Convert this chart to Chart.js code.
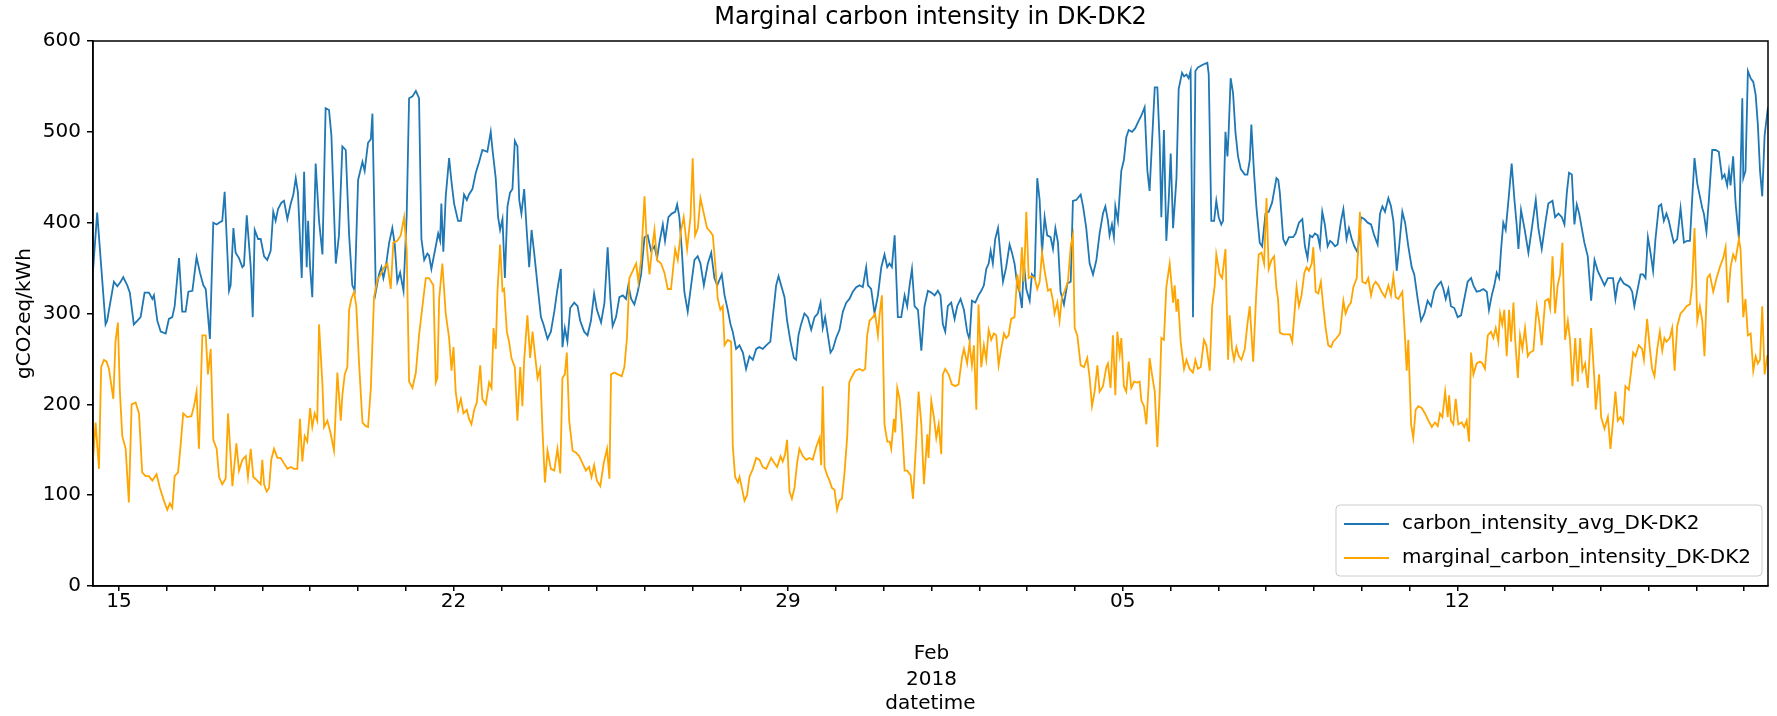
<!DOCTYPE html>
<html>
<head>
<meta charset="utf-8">
<script src="https://cdn.jsdelivr.net/npm/chart.js@4.4.1/dist/chart.umd.min.js"></script>
<style>
  html, body { margin: 0; padding: 0; background: #fff; }
  #wrap { width: 1777px; height: 716px; position: relative; }
</style>
</head>
<body>
<div id="wrap"><canvas id="chart_marginalCarbonIntensity"></canvas></div>
<script>
// x = hours since 2018-01-15 00:00, y = gCO2eq/kWh
var avgIntensity = [
  [-13,347],[-10.9,411],[-6.7,288],[-5.9,292],[-2.5,335],[-0.8,330],[0.9,335],[2.2,340],[4.2,331],[5.5,323],
  [7.5,288],[9.2,292],[10.9,296],[12.9,323],[15.1,323],[16.8,316],[17.6,320],[19.3,292],[21,280],[23.5,278],
  [25.1,294],[26.8,296],[28,308],[30.2,361],[31.8,302],[33.5,302],[34.9,324],[36.9,325],[39,362],[40.7,345],
  [42.4,331],[43.6,327],[45.7,272],[47.4,400],[49.1,398],[50.3,400],[51.9,402],[53.1,434],[55.3,325],[56.1,331],
  [57.5,394],[58.6,367],[60.3,361],[62,351],[62.8,353],[64.2,408],[66.2,351],[67.2,296],[68.2,392],[69.9,382],
  [71.2,382],[72.9,363],[74.5,359],[76.2,369],[77.5,412],[78.7,402],[79.9,415],[81.6,422],[82.9,424],[84.6,404],
  [86.3,421],[87.6,431],[88.8,449],[89.9,433],[91.8,339],[93,456],[94.3,351],[95,402],[96,351],[97.1,318],
  [98.8,465],[100.5,402],[102.2,365],[103.8,526],[105.5,524],[106.7,496],[108.9,355],[110.5,386],[112.2,484],[113.9,480],
  [115.6,386],[117.2,331],[118.4,325],[120.1,447],[122.3,467],[123.4,457],[125.1,488],[126.5,492],[127.3,520],[129,324],
  [130.6,343],[131.8,351],[132.8,339],[134,351],[135.7,378],[137.3,394],[138.5,376],[139.8,335],[141.2,345],[142.9,325],
  [144.5,408],[145.7,537],[147.4,539],[149.1,545],[150.7,537],[151.9,382],[153.3,359],[154.9,366],
  [155.7,364],[156.9,349],[159.1,374],[160.3,388],[161.3,380],[161.9,421],[162.9,368],[164.1,429],[165.8,471],[167,445],
  [168.3,421],[170.3,402],[171.7,402],[173.3,431],[174.7,425],[175.8,431],[177.5,437],[179.2,455],[180.9,467],[182.5,480],
  [185,478],[186.7,500],[187.6,480],[189.2,449],[190.4,406],[191.4,392],[192.6,404],[193.8,339],[195.1,418],[196.4,433],
  [197.6,437],[198.8,490],[200.1,484],[201,425],[202.1,410],[203.5,437],[204.8,390],[206,351],[207.2,392],[208.5,367],
  [210.2,331],[211.9,296],[213.2,288],[215.2,272],[216.9,280],[218.6,302],[220.2,327],[221.9,349],[222.7,263],[223.9,284],
  [225.2,269],[226.6,306],[228.6,312],[230.3,308],[231.6,292],[233.6,280],[235.3,276],[237,292],[238.6,322],[240,304],
  [242.1,290],[243.8,312],[245.4,373],[246.8,316],[247.9,286],[249.6,296],[251.3,318],[253,320],[254.6,316],[255.8,331],
  [257.2,316],[258.8,310],[260.5,324],[262.2,343],[263.9,384],[265.5,386],[267.2,369],[268.9,374],[270.2,361],[271.4,378],
  [273.1,398],[274.2,380],[275.9,406],[277.6,410],[279.3,412],[280.3,420],[281.4,406],[282.6,371],[283.9,324],[285.6,302],
  [287.3,331],[289,359],[290.6,363],[292,355],[293.7,331],[295.7,355],[297.4,367],[299,339],[300.4,331],[302.7,343],
  [304.1,320],[305.7,304],[307.1,288],[308.2,280],[309.9,261],[311.6,265],[313.3,257],[314.9,239],[316.6,253],[318.3,249],
  [320,261],[321.6,263],[323.3,261],[325,265],
  [327.1,269],[328.3,296],[330,331],[331.2,341],[332.5,331],[334.2,318],[335.5,292],[337.2,269],[338.9,251],[340,249],
  [341.2,276],[342.5,288],[344.2,300],[345.9,296],[347.6,282],[349.3,296],[350.9,300],[352.3,312],[353.4,284],[354.6,296],
  [356,276],[357.3,257],[358.5,261],[360.1,273],[361.8,282],[363.5,302],[365.2,312],[366.8,316],[368.5,324],[370.2,329],
  [371.9,331],[373.5,329],[375.2,351],[376.1,331],[377.7,327],[379.4,300],[381.1,320],[382.8,351],[384.4,365],[385.8,351],
  [386.9,355],[388.1,351],[389.5,386],[391.1,296],[392.8,296],[394.5,320],[395.8,308],[397,331],[398.2,349],[399.5,308],
  [401.2,304],[402.9,259],[404.5,308],[406.2,325],[407.9,323],[409.6,320],[411.2,325],
  [412.5,320],[413.7,288],[414.9,280],[416.2,308],[417.9,312],[419.6,294],[420.9,308],[422.6,316],[424.3,304],[425.9,280],
  [427.1,271],[428.3,314],[430,312],[431.6,320],[433,325],[434.3,331],[435.5,349],[436.7,355],[437.7,369],[438.8,355],
  [440,382],[441.4,394],[442.7,363],[443.9,335],[445.5,351],[447.2,376],[448.4,367],[449.7,355],[451.1,331],[452.2,324],
  [453.4,306],[454.4,355],[455.6,327],[457.3,314],[458.4,343],[459.8,339],[461.1,449],[462.3,425],[463.5,367],[464.8,406],
  [466.1,386],[467.8,384],[469,371],[470.2,394],[471.5,378],[472.8,324],[474.5,310],[476.2,333],[477.9,335],[479,424],
  [480.7,425],[482.9,431],[484.1,418],[485.7,394],[487.4,355],[489.1,343],[490.8,359],[492.4,388],[494.1,410],[495.3,418],
  [496.6,402],[497.4,386],[498.6,398],[499.6,384],[500.3,418],[501.6,402],[503.3,457],[504.6,469],[505.8,494],[507,502],
  [508.7,500],[510.3,504],[512,512],[513.4,518],[515,527],[516.4,457],[517.5,435],[518.7,488],[520.1,549],[521.4,549],
  [522.6,486],[523.4,406],[524.7,502],[525.9,380],[527.1,425],[528.1,476],[529.3,394],[531,449],[532.1,547],[533.8,565],
  [534.8,561],[536,563],[537.1,559],[538.1,567],[539.3,296],[540.5,567],[541.8,571],[543.5,573],[545.2,575],[546.5,576],
  [547.2,563],[548.5,402],[549.9,402],[551,424],[552.2,406],[553.5,398],[554.4,402],[555.6,500],[556.6,473],[557.2,500],
  [558.2,559],[559.4,543],[560.6,500],[561.9,473],[563.3,459],[565.3,453],[566.6,453],[567.8,469],[568.6,508],[570,453],
  [571.1,418],[572.8,378],[574,374],[575.7,410],[577.3,412],[579,422],[581.2,449],
  [582.1,447],[582.9,433],[584.6,382],[585.8,376],[587.5,384],[589.6,384],[590.8,388],[592.5,400],[594.2,404],[595.5,374],
  [596.8,361],[598,386],[599.2,384],[600.5,388],[601.9,386],[603,374],[604.2,412],[605.5,398],[606.9,374],[608.1,380],
  [609.2,378],[610.6,374],[611.9,376],[613.6,402],[614.8,415],[616.4,382],[617.6,394],[619,382],[620.3,374],[622,367],
  [623.6,406],[625.3,404],[627,400],[628.7,398],[630.3,386],[632,376],[633.2,410],[634.4,418],[635.7,412],[637.4,427],
  [638.7,418],[639.9,402],[641.6,347],[642.7,371],[644.4,412],[645.8,400],[647.4,374],[649.1,351],[650.4,343],[652.1,316],
  [653.8,292],[655.5,300],[657.1,314],[658.8,308],[660.5,325],[662.2,331],[663.8,335],[665,327],[666.2,316],
  [667.5,327],[668.8,308],[670.5,306],[672.2,296],[673.9,298],[675.5,316],[677.2,335],[678.9,339],[680.1,331],[681.7,324],
  [683.4,325],[685.1,327],[686.8,324],[687.9,304],[689.3,320],[690.6,331],[691.8,345],[693,339],[694,371],[695.1,400],
  [696.3,392],[697.7,425],[699.3,465],[700.7,425],[701.8,398],[702.7,371],[704,414],[705.7,394],[707.7,367],[709.7,398],
  [711.4,425],[712.7,394],[714.4,371],[716.1,398],[717.7,421],[719.8,424],[721.1,406],[722.8,410],[724.5,406],[725.8,398],
  [727,433],[728.1,455],[729.5,453],[730.8,398],[732,420],[733.2,410],[734.5,394],[735.8,378],[737.5,363],[739.2,314],
  [740.9,359],[742.5,347],[744.2,339],[745.9,331],[747.6,339],
  [748.9,339],[750.2,339],[751.4,316],[752.6,333],[753.9,339],[755.6,333],[757.3,331],[758.6,329],[759.8,324],[760.9,308],
  [762.3,324],[764,343],[765.3,343],[766.5,339],[767.7,384],[769,367],[770.3,347],[771.5,382],[773.2,418],[774.4,420],
  [775.7,402],[777,410],[778.2,402],[779.4,390],[780.7,378],[782.4,382],[784.1,416],[785.8,378],[787.4,380],[788.8,380],
  [789.9,425],[791.1,471],[792.5,443],[793.8,429],[795,416],[795.8,410],[797.1,390],[798.3,425],[800,480],[801.7,480],
  [803.3,478],[805,449],[806.2,453],[807.5,441],[808.4,457],[809.2,441],[810.5,473],[811.7,422],[813.4,382],[815.1,537],
  [815.6,449],[816.7,457],[817.9,567],[819.3,559],[820.6,555],[821.8,541],[822.9,508],[824,457],[825.1,429],[826.3,496],
  [827.6,520],[828,527]
];

var marginalIntensity = [
  [-13,139],[-11.7,180],[-10,129],[-8.9,241],[-7.5,249],[-6.2,247],[-5,239],[-3.8,221],[-2.8,206],[-1.7,269],
  [-0.5,290],[0.5,214],[1.7,165],[3.4,151],[5,92],[6.4,200],[8.4,202],[10.1,190],[11.7,125],[13.4,121],
  [15.1,121],[16.8,116],[18.9,123],[20.6,108],[22.6,94],[24.3,84],[25.6,91],[26.8,86],[28,121],[29.7,125],
  [31,155],[32.3,190],[34.3,186],[36.4,187],[37.7,198],[39,214],[40.2,151],[41.9,276],[43.6,276],[44.7,233],
  [46.1,261],[47.4,161],[49.1,151],[50.3,120],[51.9,112],[53.6,118],[54.8,190],[57,110],[59,157],[60.3,127],
  [62,139],[63.7,143],[64.8,120],[66.2,151],[67.5,120],[69.5,116],
  [71.2,112],[72,139],[72.9,112],[74.2,104],[75.4,108],[76.5,139],[77.9,151],[79.6,141],[81.2,141],[82.9,135],
  [84.6,129],[86.3,131],[87.9,129],[89.6,129],[90.9,184],[92.1,137],[93.3,165],[94.6,159],[96,196],[97.1,175],
  [98.3,190],[99.6,182],[100.5,288],[102.2,222],[103,175],[104.7,182],[106.4,167],[108,149],[109.7,235],[111.4,182],
  [112.2,210],[113.4,233],[114.7,241],[115.6,304],[116.7,316],[118.1,324],[119.2,308],[120.6,245],[122.3,180],[124,176],
  [125.1,175],[126.5,218],[128.1,318],[129.8,337],[131.5,343],[133.2,351],[134.8,355],[136.5,327],[137.8,378],[139.8,380],
  [141.5,386],[143.2,406],[144.5,370],[145.7,225],[147.4,218],[149.1,235],[150.7,276],[152.4,308],[154.1,339],
  [155.7,339],[157.9,331],[159.1,224],[159.9,229],[160.8,316],[162.4,355],[164.1,300],[165.8,273],[167,237],[168,263],
  [169.1,214],[170.3,194],[171.7,206],[173,190],[174.7,194],[175.8,184],[177,178],[178.4,194],[179.7,202],[181.4,243],
  [182.5,206],[184.2,200],[185.9,224],[187.1,218],[188.1,284],[189.2,261],[190.1,325],[191.4,376],[192.6,325],[193.4,327],
  [194.8,280],[195.9,269],[197.1,251],[198.8,241],[200.1,182],[201.5,241],[202.6,198],[203.5,249],[205.1,298],[206.5,251],
  [207.7,280],[208.8,257],[210.2,229],[211.5,239],[212.7,171],[213.9,114],[215.2,149],[216.9,129],[218.6,127],[220.2,151],
  [221.6,124],[222.7,229],[223.9,233],[224.9,257],[226.1,182],[227.8,149],[229.4,147],[231.1,143],[232.8,135],[234.5,127],
  [236.1,131],[237.3,120],[238.6,133],[240,116],
  [241.7,110],[243.4,135],[245.1,151],[246.3,118],[247.1,233],[248.8,235],[250.5,233],[252.5,231],[253.8,241],[255.1,273],
  [256.3,339],[258,347],[259.7,355],[260.8,335],[262.2,359],[263.9,429],[265.2,371],[266.4,343],[267.5,367],[268.9,392],
  [270.2,359],[272.2,355],[273.9,345],[275.6,327],[277.2,327],[279.3,371],[280.6,359],[282.3,392],[283.6,406],[285.3,371],
  [287,406],[288.1,471],[289.3,386],[290.7,394],[292,427],[293.7,410],[295.3,394],[297,390],[298.2,386],[299.4,355],
  [300.7,316],[302,304],[303.2,308],[304.1,265],[305.7,271],[307.4,269],[308.2,155],[309.4,120],[310.8,114],[311.6,120],
  [312.8,108],[314.1,94],[315.4,100],[316.6,120],[318.3,129],[320,141],[321.6,139],[323.3,131],[325,129],
  [327.5,141],[329.2,135],[330.5,131],[332.2,143],[333.3,137],[334.5,145],[335.5,161],[336.7,104],[337.9,96],[339.2,108],
  [340.5,135],[341.7,151],[343.4,143],[345.1,139],[346.7,141],[348.4,139],[350.1,153],[351.8,163],[352.6,133],[353.4,220],
  [354.3,131],[355.6,122],[356.8,116],[358,108],[359.3,106],[360.6,84],[361.8,94],[363,96],[364.3,124],[365.7,165],
  [366.7,224],[367.7,229],[369.7,237],[371.9,239],[373.5,237],[374.7,239],[375.7,276],[376.9,292],[378.6,296],[379.7,300],
  [381.1,276],[381.9,298],[383.1,320],[384.4,178],[385.8,159],[387,159],[387.8,151],[389.1,184],[389.8,169],[390.8,218],
  [392,206],[393.1,178],[394.5,127],[395.8,127],[397.5,122],[398.7,96],[400.3,159],[401.5,214],[402.9,178],[404.2,112],
  [405.9,167],[406.5,141],[407.9,204],[409.2,186],[410.4,163],[411.6,178],
  [412.9,145],[413.7,233],[414.9,239],[416.6,233],[418.2,222],[419.9,220],[421.6,222],[423.3,251],[424.3,261],[425.9,245],
  [427.1,267],[428.3,243],[429.3,265],[430.5,194],[431.6,310],[433,241],[434.3,265],[435.5,249],[436.7,282],[438,271],
  [439.3,278],[440.5,276],[441.7,243],[443,261],[444.4,278],[445.5,273],[446.7,276],[448,294],[449.7,296],[451.1,343],
  [452.2,324],[453.4,373],[454.4,335],[455.6,412],[456.8,339],[458.1,341],[459.8,339],[461.1,327],[462.3,335],[463.5,367],
  [464.8,347],[466.5,325],[467.8,327],[469,314],[469.8,300],[471.2,312],[472.3,292],[473.5,318],[474.9,325],[476.5,335],
  [477.9,374],[479,386],[479.9,284],[481.2,276],[482.9,243],[484.6,241],[486.2,251],[487.4,229],[488.6,198],[489.9,214],
  [491.3,243],[492.4,214],[494.1,220],[495.8,241],
  [496.6,245],[497.9,218],[499.1,276],[500.3,210],[501.3,280],[502.5,255],[503.3,273],[504.6,220],[505.8,214],[507,247],
  [508.3,218],[509.7,225],[511.3,224],[512.5,225],[513.4,204],[514.7,198],[515.9,178],[517,220],[517.5,251],[518.7,233],
  [520.1,214],[521.4,153],[522.6,214],[523.4,273],[524.7,271],[525.9,329],[527.6,355],[528.4,335],[529.3,312],[530.1,331],
  [531,302],[531.8,316],[533.1,269],[534.8,239],[536,249],[537.6,239],[539.3,235],[540.5,249],[541.8,239],[543.2,241],
  [544.8,271],[546,265],[547.7,237],[548.9,308],[550.2,331],[551,365],[552.7,343],[553.9,339],[555.6,371],[556.9,249],
  [557.7,298],[558.9,261],[559.9,249],[561.1,263],[562.3,253],[563.6,249],[565.3,261],[566.6,288],[567.8,308],[569.5,247],
  [571.1,324],[572.3,365],[573.7,367],[575,355],[576.2,427],[577.3,349],[578.7,359],[580,363],[581.2,327],[582,316],
  [582.9,279],[584.6,277],[586.3,277],[588,277],[589.1,269],[590.1,296],[591.3,329],[592.5,308],[593.8,320],[595.2,345],
  [596.3,351],[597.5,347],[598.9,355],[599.7,373],[600.9,324],[602.2,322],[603.5,335],[604.7,308],[605.9,284],[607.2,265],
  [608.6,263],[609.7,269],[611.4,273],[613.1,278],[614.8,314],[615.9,300],[617.3,308],[618.6,312],[619.8,329],[621.5,339],
  [623.1,412],[624.3,335],[626,333],[627.3,339],[628.7,320],[629.8,331],[631,335],[632.4,331],[634,324],[635.7,318],
  [637.4,331],[638.7,320],[639.9,341],[641.1,318],[642.4,316],[644.4,324],[645.8,271],[646.6,237],[647.4,271],[648.8,178],
  [649.9,163],[651.1,194],[652.4,198],[654.1,196],[655.8,190],[657.5,182],[659.2,175],[660.8,180],[662.2,176],[663.3,190],
  [664.5,186],[665.9,214],[667.2,186],
  [667.9,210],[668.8,182],[670,178],[671.2,206],[672.5,178],[674.2,180],[675.5,175],[676.7,182],[677.9,159],[678.9,257],
  [680.1,233],[681.7,245],[683.4,247],[684.6,245],[685.9,239],[687.3,276],[688.9,280],[690.1,273],[691.3,284],[692.6,269],
  [693.5,300],[694.6,288],[695.6,304],[696.8,253],[698,304],[699,269],[700.2,312],[701,273],[702.4,229],[703.5,276],
  [704.7,261],[706,284],[707.4,253],[708.5,257],[710.2,259],[711.9,308],[713.1,292],[714.4,265],[716.1,314],[717.7,316],
  [718.6,306],[719.8,363],[721.1,300],[722.4,331],[723.6,343],[724.8,378],[726.1,271],[727.5,292],[728.6,271],[729.8,220],
  [731.2,273],[732.5,225],[733.7,273],[734.8,237],[736.2,245],[737.5,218],[739.2,284],[740.9,225],[741.5,194],[743.2,233],
  [744.2,186],[745.9,173],[747.6,186],
  [748.9,151],[750.2,182],[751.4,214],[752.6,182],[753.9,186],[755.3,180],[756.4,220],[758.1,216],[759.3,237],[760.3,257],
  [761.5,253],[763.1,265],[764.8,261],[765.7,249],[767.3,294],[768.7,261],[769.8,239],[771,231],[772.4,261],[773.7,280],
  [774.9,259],[776,273],[777,269],[778.7,273],[779.9,284],[781.1,237],[782.4,286],[784.1,300],[785.8,304],[787.1,308],
  [788.8,310],[789.9,331],[791.1,394],[792.5,292],[793.8,308],[795,292],[796.1,253],[797.5,339],[798.8,343],[800.5,324],
  [802.2,339],[803.8,351],[805.5,361],[806.7,373],[807.9,312],[809.2,351],[810.5,365],[811.7,359],[813.4,382],[814.2,371],
  [815.6,296],[816.7,316],[817.9,276],[819.3,278],[820.6,237],[821.8,253],[822.9,245],[824,249],[825.1,308],[826.3,233],
  [827.6,253],[828,253]
];

// axis ticks: one per day (hours from Jan 15), labels on Mondays, month label on Feb 1
var weekTickHours = [0, 168, 336, 504, 672];
var weekTickLabels = ['15', '22', '29', '05', '12'];
var monthTickHour = 408;
var monthTickLabel = ['', '', 'Feb', '2018'];
var firstHour = -13, lastHour = 828;
var chartTitle = 'Marginal carbon intensity in DK-DK2';

function toPoints(pairs) {
  return pairs.map(function (p) { return {x: p[0], y: p[1]}; });
}

Chart.defaults.font.family = '"DejaVu Sans", sans-serif';
Chart.defaults.font.size = 20;
Chart.defaults.color = '#000';

// matplotlib centres the title and places the legend relative to the axes box
var axesDecorations = {
  id: 'axesDecorations',
  beforeDraw: function (chart) {
    var ctx = chart.ctx;
    ctx.save();
    ctx.fillStyle = 'white';
    ctx.fillRect(0, 0, chart.width, chart.height);
    ctx.restore();
  },
  afterDatasetsDraw: function (chart) {
    var ctx = chart.ctx, a = chart.chartArea;
    ctx.save();
    ctx.strokeStyle = '#000';
    ctx.lineWidth = 1.5;
    ctx.strokeRect(a.left, a.top, a.right - a.left, a.bottom - a.top);
    ctx.fillStyle = '#000';
    ctx.font = '24px "DejaVu Sans", sans-serif';
    ctx.textAlign = 'center';
    ctx.textBaseline = 'middle';
    ctx.fillText(chartTitle, (a.left + a.right) / 2, a.top - 23);
    ctx.restore();
  },
  afterDraw: function (chart) {
    var ctx = chart.ctx, area = chart.chartArea;
    var sets = chart.data.datasets;
    ctx.save();
    ctx.font = '20px "DejaVu Sans", sans-serif';
    var textW = 0;
    sets.forEach(function (s) { textW = Math.max(textW, ctx.measureText(s.label).width); });
    var w = 8 + 45 + 13 + textW + 11, h = 71;
    var x = area.right - 6 - w, y = area.bottom - 10 - h;
    ctx.beginPath();
    ctx.roundRect(x, y, w, h, 4);
    ctx.fillStyle = 'rgba(255,255,255,0.8)';
    ctx.fill();
    ctx.strokeStyle = '#cccccc';
    ctx.lineWidth = 1;
    ctx.stroke();
    sets.forEach(function (s, i) {
      var cy = y + 19 + i * 34;
      ctx.beginPath();
      ctx.moveTo(x + 8, cy);
      ctx.lineTo(x + 53, cy);
      ctx.strokeStyle = s.borderColor;
      ctx.lineWidth = 2;
      ctx.stroke();
      ctx.fillStyle = '#000';
      ctx.textBaseline = 'middle';
      ctx.textAlign = 'left';
      ctx.fillText(s.label, x + 66, cy);
    });
    ctx.restore();
  }
};

var chart_marginalCarbonIntensity = new Chart(document.getElementById('chart_marginalCarbonIntensity'), {
  type: 'line',
  data: {
    datasets: [
      {
        label: 'carbon_intensity_avg_DK-DK2',
        data: toPoints(avgIntensity),
        borderColor: '#1f77b4',
        borderWidth: 1.8,
        pointRadius: 0,
        tension: 0,
        order: 2
      },
      {
        label: 'marginal_carbon_intensity_DK-DK2',
        data: toPoints(marginalIntensity),
        borderColor: '#ffa500',
        borderWidth: 1.8,
        pointRadius: 0,
        tension: 0,
        order: 1
      }
    ]
  },
  options: {
    animation: false,
    responsive: true,
    maintainAspectRatio: false,
    devicePixelRatio: 1,
    layout: { padding: { left: 0, right: 9, top: 41, bottom: 0 } },
    plugins: {
      legend: { display: false },
      tooltip: { enabled: false },
      title: { display: false }
    },
    scales: {
      x: {
        type: 'linear',
        min: firstHour,
        max: lastHour,
        afterBuildTicks: function (axis) {
          var t = [];
          for (var h = 0; h <= lastHour; h += 24) t.push({value: h});
          axis.ticks = t;
        },
        afterFit: function (axis) { axis.height = 130; },
        ticks: {
          autoSkip: false,
          maxRotation: 0,
          padding: -2,
          font: { size: 20, lineHeight: '26px' },
          color: '#000',
          callback: function (value) {
            var i = weekTickHours.indexOf(value);
            if (i >= 0) return weekTickLabels[i];
            if (value === monthTickHour) return monthTickLabel;
            return '';
          }
        },
        grid: { drawOnChartArea: false, drawTicks: true, tickLength: 5, color: '#000', lineWidth: 1.5 },
        border: { display: true, color: '#000', width: 1.5 },
        title: { display: true, text: 'datetime', color: '#000', font: { size: 20 }, padding: { top: 0, bottom: 0 } }
      },
      y: {
        type: 'linear',
        min: 0,
        max: 600,
        afterFit: function (axis) { axis.width = 93; },
        ticks: { stepSize: 100, padding: 6, color: '#000', font: { size: 20 } },
        grid: { drawOnChartArea: false, drawTicks: true, tickLength: 6, color: '#000', lineWidth: 1.5 },
        border: { display: true, color: '#000', width: 1.5 },
        title: { display: true, text: 'gCO2eq/kWh', color: '#000', font: { size: 20 }, padding: { top: 13, bottom: 0 } }
      }
    }
  },
  plugins: [axesDecorations]
});
</script>
</body>
</html>
